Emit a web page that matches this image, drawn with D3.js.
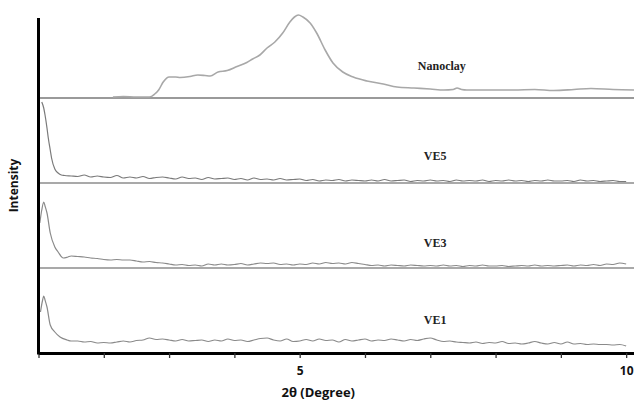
<!DOCTYPE html>
<html>
<head>
<meta charset="utf-8">
<script src="https://cdn.jsdelivr.net/npm/d3@7"></script>
<style>
  html, body { margin: 0; padding: 0; background: #fff; }
  svg { display: block; }
</style>
</head>
<body>
<div id="chart"></div>
<script>
// ---------------- DATA ----------------
const seriesNames = ["Nanoclay", "VE5", "VE3", "VE1"];
// vertical stacking offsets (arbitrary intensity units)
const seriesOffsets = [255, 170, 85, 0];

const xTickValues = [1, 2, 3, 4, 5, 6, 7, 8, 9, 10];
const xTickLabels = ["", "", "", "", "5", "", "", "", "", "10"];

// Nanoclay
const nanoAngles = [2.14, 2.3, 2.5, 2.7, 2.78, 2.84, 2.91, 3.0, 3.1, 3.17, 3.32, 3.44, 3.55, 3.63, 3.75, 3.89,
  4.04, 4.19, 4.28, 4.39, 4.5, 4.62, 4.74, 4.85, 4.92, 4.98, 5.05, 5.16, 5.26, 5.39, 5.51, 5.66, 5.82,
  6.03, 6.28, 6.49, 6.75, 7.0, 7.21, 7.35, 7.41, 7.48, 7.56, 8.0, 8.28, 8.6, 8.89, 9.2, 9.46, 9.8, 10.12];
const nanoIntensity = [1, 1.5, 1, 1, 4, 8, 16, 21, 21, 20.5, 21.5, 23, 22.5, 22, 26, 27.5,
  31.5, 35.5, 39, 43, 50, 56, 65, 76, 81, 83, 81, 75, 65, 48, 35, 26, 21,
  17, 14, 11, 10, 9, 8, 8.5, 10, 8.5, 8, 8, 8, 8.5, 7.5, 8.5, 9.5, 8.5, 8];

// common scan grid for VE samples (after the low-angle region)
const scanAngles = [1.5, 1.6, 1.7, 1.8, 1.9,
  2.0, 2.1, 2.2, 2.3, 2.4, 2.5, 2.6, 2.7, 2.8, 2.9,
  3.0, 3.1, 3.2, 3.3, 3.4, 3.5, 3.6, 3.7, 3.8, 3.9,
  4.0, 4.1, 4.2, 4.3, 4.4, 4.5, 4.6, 4.7, 4.8, 4.9,
  5.0, 5.1, 5.2, 5.3, 5.4, 5.5, 5.6, 5.7, 5.8, 5.9,
  6.0, 6.1, 6.2, 6.3, 6.4, 6.5, 6.6, 6.7, 6.8, 6.9,
  7.0, 7.1, 7.2, 7.3, 7.4, 7.5, 7.6, 7.7, 7.8, 7.9,
  8.0, 8.1, 8.2, 8.3, 8.4, 8.5, 8.6, 8.7, 8.8, 8.9,
  9.0, 9.1, 9.2, 9.3, 9.4, 9.5, 9.6, 9.7, 9.8, 9.9,
  10.0];

// VE5
const ve5HeadAngles = [1.05, 1.08, 1.1, 1.13, 1.15, 1.18, 1.2, 1.25, 1.3, 1.35, 1.4];
const ve5HeadIntensity = [81, 75, 68, 55, 45, 33, 25, 14, 10, 8, 7.5];
const ve5Intensity = [7, 6.5, 8, 6, 7,
  6, 5.5, 7.5, 5, 6, 5, 6.5, 4.5, 5.5, 6,
  5, 4, 6, 4.5, 5, 3.5, 5.5, 4, 4.5, 5,
  3.5, 4.5, 3, 5, 3.5, 4, 3, 4.5, 3, 3.5,
  4, 2.5, 3.5, 2, 3, 2.5, 3.5, 2, 3, 2.5,
  2, 3, 2, 3.5, 2, 2.5, 3, 1.5, 2.5, 2,
  3, 2, 2.5, 1.5, 3, 2, 2.5, 2, 3, 1.5,
  2.5, 2, 3, 2, 2.5, 1.5, 2.5, 2, 3, 2,
  2, 2.5, 1.5, 3, 2, 2.5, 1.5, 2, 2.5, 1.5,
  1.5];

// VE3
const ve3HeadAngles = [1.02, 1.05, 1.08, 1.1, 1.13, 1.18, 1.25, 1.3, 1.38, 1.45];
const ve3HeadIntensity = [45, 58, 66, 62, 55, 35, 21, 16, 10, 11];
const ve3Intensity = [12, 11.5, 11, 10, 9.5,
  8.5, 8, 8.5, 8, 8, 7, 6, 6.5, 5.5, 5,
  4, 3, 3.5, 2.5, 3, 2, 4, 3, 4, 3,
  3.5, 4.5, 3, 4, 5, 4.5, 5, 3.5, 4, 3,
  4, 3.5, 5, 4, 5.5, 4.5, 5, 4, 5.5, 4.5,
  3.5, 2.5, 3, 2, 3, 2.5, 2, 3, 2.5, 2,
  2.5, 2, 3, 2, 2.5, 1.5, 2.5, 2, 3, 2,
  2, 2.5, 1.5, 2, 2.5, 2, 3, 2, 2.5, 2,
  2.5, 3, 2, 3, 2.5, 3.5, 2.5, 4, 3.5, 5,
  4];

// VE1
const ve1HeadAngles = [1.03, 1.06, 1.08, 1.1, 1.13, 1.18, 1.25, 1.33, 1.44];
const ve1HeadIntensity = [41, 52, 57, 53, 46, 28, 21, 16, 13];
const ve1Intensity = [12, 12, 11, 11.5, 10,
  10.5, 10, 11, 12, 11, 12.5, 13, 15, 13.5, 14,
  13, 12, 13.5, 12, 12.5, 13, 11.5, 13, 12, 14,
  12.5, 13, 11.5, 13, 14.5, 15, 13, 12, 14, 11.5,
  12, 13.5, 12, 14, 12.5, 13, 11, 13.5, 12, 13,
  14, 12, 13, 12.5, 14, 13, 12, 13.5, 12.5, 14,
  15, 13, 11.5, 12, 11, 10.5, 10, 11, 9.5, 10.5,
  10, 11.5, 9.5, 10, 9, 10, 11.5, 10, 9, 10.5,
  9, 11, 9, 9.5, 8.5, 9, 8.5, 8.5, 8, 8.5,
  7];

// ---------------- CHART ----------------
const W = 634, H = 403;
const svg = d3.select("#chart").append("svg")
  .attr("width", W).attr("height", H);

const x = d3.scaleLinear().domain([1, 10.12]).range([38.5, 634]);
const y = d3.scaleLinear().domain([0, 335]).range([353, 18]);

function zipSeries(ax, iy, off) {
  return ax.map((a, i) => ({ a: a, v: iy[i] + off }));
}
const series = [
  { name: seriesNames[0], off: seriesOffsets[0], pts: zipSeries(nanoAngles, nanoIntensity, seriesOffsets[0]), color: "#a8a8a8", w: 1.6 },
  { name: seriesNames[1], off: seriesOffsets[1], pts: zipSeries(ve5HeadAngles, ve5HeadIntensity, seriesOffsets[1]).concat(zipSeries(scanAngles, ve5Intensity, seriesOffsets[1])), color: "#7a7a7a", w: 1.2 },
  { name: seriesNames[2], off: seriesOffsets[2], pts: zipSeries(ve3HeadAngles, ve3HeadIntensity, seriesOffsets[2]).concat(zipSeries(scanAngles, ve3Intensity, seriesOffsets[2])), color: "#8a8a8a", w: 1.2 },
  { name: seriesNames[3], off: seriesOffsets[3], pts: zipSeries(ve1HeadAngles, ve1HeadIntensity, seriesOffsets[3]).concat(zipSeries(scanAngles, ve1Intensity, seriesOffsets[3])), color: "#8a8a8a", w: 1.2 }
];

// baselines for stacked patterns (not for the bottom one, which sits on the axis)
series.filter(s => s.off > 0).forEach(s => {
  svg.append("line")
    .attr("x1", x(1)).attr("x2", x(10.12))
    .attr("y1", y(s.off)).attr("y2", y(s.off))
    .attr("stroke", s.off === seriesOffsets[0] ? "#9a9a9a" : "#8c8c8c")
    .attr("stroke-width", s.off === seriesOffsets[0] ? 2 : 1.4);
});

const line = d3.line().x(d => x(d.a)).y(d => y(d.v)).curve(d3.curveMonotoneX);
series.forEach(s => {
  svg.append("path")
    .datum(s.pts)
    .attr("d", line)
    .attr("fill", "none")
    .attr("stroke", s.color)
    .attr("stroke-width", s.w)
    .attr("stroke-linejoin", "round");
});

// series labels
const labelAngles = [6.81, 6.9, 6.9, 6.9];
const labelIntensity = [28, 23, 21.3, 29];
series.forEach((s, i) => {
  svg.append("text")
    .attr("x", x(labelAngles[i]))
    .attr("y", y(s.off + labelIntensity[i]))
    .attr("font-family", "'Liberation Serif', 'Times New Roman', serif")
    .attr("font-weight", "bold")
    .attr("font-size", 12)
    .attr("fill", "#222")
    .text(s.name);
});

// x axis
const xAxis = d3.axisBottom(x)
  .tickValues(xTickValues)
  .tickSizeInner(5)
  .tickSizeOuter(0)
  .tickPadding(8)
  .tickFormat((d, i) => xTickLabels[i]);
const gx = svg.append("g").attr("transform", `translate(0,${y(0)})`).call(xAxis);
gx.select(".domain").attr("stroke", "#000").attr("stroke-width", 3);
gx.selectAll(".tick line").attr("stroke", "#333").attr("stroke-width", 1.3);
gx.selectAll(".tick text")
  .attr("font-family", "'Open Sans', sans-serif")
  .attr("font-weight", "bold")
  .attr("font-size", 12)
  .attr("fill", "#111");

// y axis line (no ticks)
svg.append("line")
  .attr("x1", x(1)).attr("x2", x(1))
  .attr("y1", y(335)).attr("y2", y(0) + 1.5)
  .attr("stroke", "#000").attr("stroke-width", 3);

// axis titles
svg.append("text")
  .attr("x", (x(1) + x(10.12)) / 2 - 18)
  .attr("y", 397)
  .attr("text-anchor", "middle")
  .attr("font-family", "'Open Sans', sans-serif")
  .attr("font-weight", "bold")
  .attr("font-size", 13)
  .attr("fill", "#111")
  .text("2θ (Degree)");

svg.append("text")
  .attr("transform", `translate(18,${(y(0) + y(335)) / 2})rotate(-90)`)
  .attr("text-anchor", "middle")
  .attr("font-family", "'Open Sans', sans-serif")
  .attr("font-weight", "bold")
  .attr("font-size", 12)
  .attr("fill", "#111")
  .text("Intensity");
</script>
</body>
</html>
